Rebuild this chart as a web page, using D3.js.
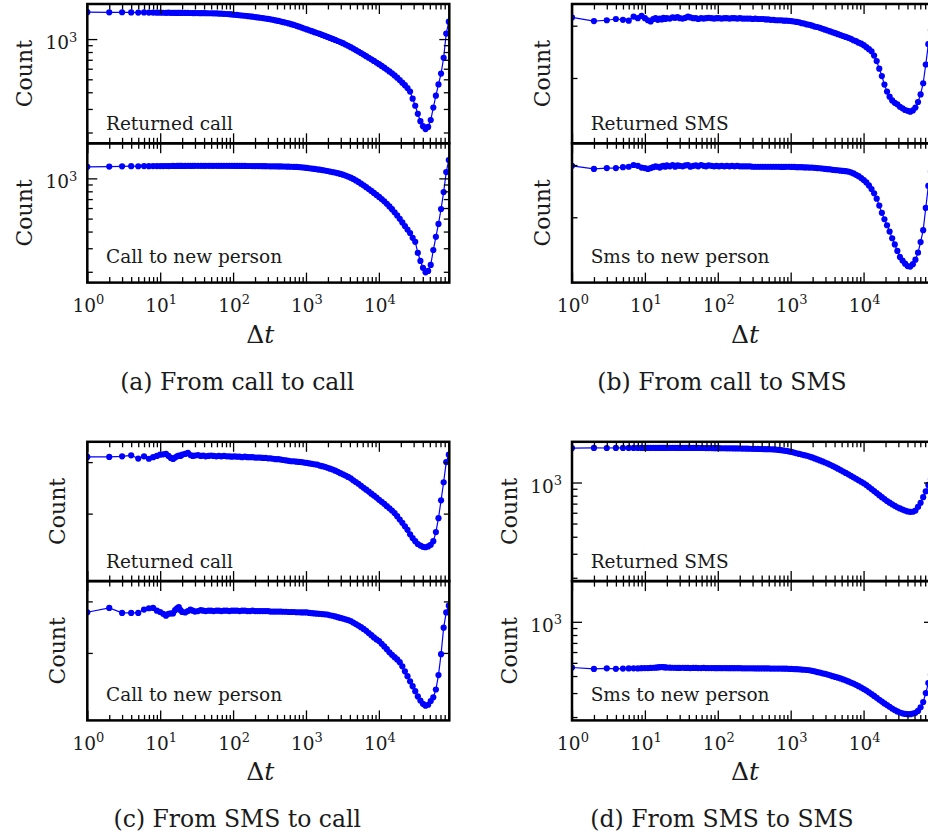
<!DOCTYPE html>
<html>
<head>
<meta charset="utf-8">
<script src="https://cdn.jsdelivr.net/npm/d3@7"></script>
<style>
  body { margin: 0; background: #fff; }
  svg { display: block; font-family: "DejaVu Serif", serif; }
</style>
</head>
<body>
<div id="chart"></div>
<script>
// time between events (s), shared bins for all series
var deltaT = [1,2,3,4,5,6,7,8,9,10,
  11,12,13,14,15,16,17,18,19,20,
  22,24,26,28,30, 33,36,39,42,46, 50,54,59,64,69, 75,82,89,96,104,
  113,123,133,145,157, 170,185,201,218,236, 256,278,302,327,355, 385,418,454,492,534,
  579,628,682,740,803, 871,945,1025,1112,1207, 1309,1421,1541,1672,1814, 1969,2136,2318,2515,2729,
  2961,3212,3485,3781,4103, 4451,4830,5240,5686,6169, 6693,7262,7879,8549,9276, 10064,10920,11848,12855,13948,
  15133,16420,17815,19330,20973, 22755,24690,26788,29065,31536, 34216,37125,40280,43704,47419, 51450,55823,60568,65716,71302,
  77363,83939,91074];

// (a) from call to call
var callCallReturned = [1590,1585,1588,1583,1580,1582,1578,1580,1576,1575,
  1574,1573,1575,1572,1571,1573,1570,1571,1569,1570,
  1568,1569,1567,1566,1566, 1565,1563,1564,1562,1561, 1560,1558,1556,1553,1550, 1546,1541,1536,1529,1521,
  1515,1508,1501,1494,1486, 1479,1471,1462,1453,1444, 1435,1425,1415,1405,1393, 1380,1367,1353,1339,1325,
  1309,1292,1275,1257,1238, 1220,1200,1181,1163,1145, 1127,1110,1092,1074,1056, 1038,1020,1002,985,967,
  949,931,911,891,870, 849,828,807,786,766, 745,725,705,686,667, 649,630,611,592,573,
  554,535,514,493,472, 452,430,405,358,317, 276,243,223,212,220, 248,307,377,458,552,
  725,1100,1350];
var callCallNew = [1221,1226,1230,1233,1232,1235,1234,1236,1235,1237,
  1236,1238,1237,1238,1239,1238,1239,1240,1239,1240,
  1240,1241,1240,1241,1241, 1241,1242,1241,1242,1242, 1242,1242,1242,1242,1242, 1242,1241,1241,1241,1240,
  1240,1240,1239,1239,1238, 1238,1237,1237,1236,1235, 1234,1233,1232,1231,1230, 1230,1229,1228,1227,1226,
  1224,1222,1220,1218,1215, 1210,1205,1198,1191,1184, 1177,1169,1162,1154,1145, 1135,1125,1115,1105,1093,
  1080,1065,1049,1031,1012, 990,966,940,912,887, 860,832,805,778,752, 727,700,673,645,617,
  588,558,528,498,468, 440,414,390,359,335, 277,241,214,198,203, 225,291,365,456,590,
  790,1114,1370];

// (b) from call to SMS
var callSmsReturned = [320,311,313,316,314,312,322,318,324,318,
  313,310,316,318,314,317,315,319,316,318,
  317,320,319,321,318, 317,319,322,320,318, 318,316,318,317,318, 319,318,317,318,318,
  317,318,318,317,318, 318,317,318,317,317, 317,317,316,317,316, 316,316,315,315,314,
  314,313,313,313,312, 312,311.5,311,310,309, 308,306,305,303,302, 300,298,297,295,293,
  291,289,287,285,283, 281,279,277,275,273, 271,268,266,263,261, 258,254,250,246,238,
  228,215,203,190,180, 173,168,165,163,160, 158,156,155,154,155.5, 159,166,176,192,222,
  260,290,310];
var callSmsNew = [298,291,293,293,295,296,300,298,294,293,
  291,293,295,297,296,294,297,298,296,299,
  297,300,296,299,298, 297,299,300,296,298, 299,297,300,298,297, 299,298,297,298,297,
  298,297,298,297,298, 297,298,297,297,297, 297,297,296,296,296, 296,296,296,296,296,
  296,296,296,295.5,295.5, 296,296,295.5,295.5,295, 295,295,294.5,294.5,294, 294,293.5,293,292.5,292,
  291,290.5,290,289,288.5, 288,287,286.5,286,285, 283.5,281,278,275,271, 267,262,256,249,241,
  231,219,207,197,188, 179,170,162,154,147, 143,139.5,137,136.5,139, 144,152,165,181,215,
  255,285,300];

// (c) from SMS to call
var smsCallReturned = [312.6,312.6,314,316.5,308.5,314,308,312,315,318,
  319,320,315,310,307.7,311,314,316,315,318,
  320,322.6,317,315,316, 317,315,316,314,315, 316,315,314,315,314, 315,314,314,313,314,
  313,313,312,313,312, 312,312,311,311,311, 310,310,309,309,308, 307,307,306,305,304,
  303,302,302,301,300.5, 300,299,298,297,296, 295,294,292,290.5,289, 287,285,283,280.5,278,
  275,272.5,270,267,264, 260,256.5,253,249,245, 241.5,238,234,230.5,227, 223,219.5,216,212,208.5,
  205,201,196,191,186, 181,176,170,165,161, 157.5,155.5,154,153.5,154.5, 156.5,161,173,193,222,
  256,300,318];
var smsCallNew = [275.4,285,274,274,274,281.4,284.3,285,279,276,
  272,268,272,273,273,280,284,286.6,280,276,
  275,278,281,279,277, 278,280,279,278,279, 279,278,279,279,278, 279,279,278,279,279,
  279,278,279,279,278, 278,279,278,278,278, 278,278,278,277,277, 277,277,277,276.5,276.5,
  276,276,276,275.5,275.5, 275,275,275,274,273.5, 273,272.5,272,271.5,271, 270.5,269,268,266.5,265,
  263.5,262,260.5,259,257, 254,251,248,245,241.5, 238,234,230,226,222.5, 219.5,215,210.5,206,201,
  197,193.5,190,186,180, 173,166.5,160,154,148, 142,137.5,134,132,133, 137,141,150,168,198,
  244,275,290];

// (d) from SMS to SMS
var smsSmsReturned = [1790,1795,1792,1794,1793,1795,1794,1795,1794,1795,
  1794,1795,1796,1795,1794,1795,1796,1795,1795,1794,
  1795,1796,1795,1794,1795, 1795,1794,1795,1794,1794, 1793,1793,1792,1792,1791, 1790,1789,1788,1787,1786,
  1785,1784,1783,1782,1781, 1780,1779,1777,1776,1774, 1772,1770,1768,1766,1764, 1762,1760,1758,1756,1754,
  1750,1744,1736,1727,1717, 1705,1692,1676,1658,1640, 1622,1605,1588,1572,1550, 1527,1502,1477,1452,1428,
  1403,1377,1350,1321,1292, 1263,1233,1205,1176,1148, 1120,1093,1066,1039,1013, 988,957,926,895,865,
  836,808,781,756,732, 711,692,674,658,645, 633,622,614,609,610, 622,662,710,780,860,
  960,1060,1160];
var smsSmsNew = [462,451,456,452,454,455,456,455,457,458,
  458,459,460,461,463,465,466,465,463,462,
  461,460,460,459,459, 460,459,459,458,459, 459,458,458,459,458, 458,458,458,457,458,
  457,458,457,457,457, 457,457,457,456,456, 456,456,456,455,455, 455,455,455,455,454,
  454,454,454,454,453, 453,452,451,450,449, 448,446,445,443,441, 437,433,428,424,419,
  415,410,405,399,394, 389,384,378,372,365, 358,352,345,337,329, 321,313,304,295,286,
  277,268,260,252,245, 238,231,225,220,216, 213,211,210,210,212, 215,222,236,258,300,
  355,410,460];

var captions = ["(a) From call to call", "(b) From call to SMS", "(c) From SMS to call", "(d) From SMS to SMS"];
var upperLabels = ["Returned call", "Returned SMS", "Returned call", "Returned SMS"];
var lowerLabels = ["Call to new person", "Sms to new person", "Call to new person", "Sms to new person"];
var yRanges = [[166, 1830], [120.5, 355], [117.6, 352], [189, 1990]];
var xRange = [1, 92500];

var subplots = [
  {upper: callCallReturned, lower: callCallNew},
  {upper: callSmsReturned, lower: callSmsNew},
  {upper: smsCallReturned, lower: smsCallNew},
  {upper: smsSmsReturned, lower: smsSmsNew}
];

var W = 928, H = 839;
var plotW = 362, panelH = 139.3;
var colX = [87.3, 572], rowY = [4, 441.8];
var blue = "#0000ff";

var svg = d3.select("#chart").append("svg")
  .attr("width", W).attr("height", H);

// log tick values inside a domain: majors are powers of ten
function logTicks(dom) {
  var major = [], minor = [];
  for (var e = -1; e <= 6; e++) {
    for (var m = 1; m < 10; m++) {
      var v = m * Math.pow(10, e);
      if (v >= dom[0] * 0.999 && v <= dom[1] * 1.001) {
        (m === 1 ? major : minor).push(v);
      }
    }
  }
  return {major: major, minor: minor};
}

function powLabel(sel, exp) {
  sel.append("tspan").attr("font-size", 18.5).text("10");
  sel.append("tspan").attr("font-size", 13).attr("dy", -7.5).text(exp);
}

function styleTicks(a) {
  a.select(".domain").remove();
  a.selectAll("line").attr("stroke", "#000").attr("stroke-width", 1.3);
}

var clipId = 0;

function drawPanel(left, top, ySeries, yDom, label, isLower) {
  var x = d3.scaleLog().domain(xRange).range([0, plotW]);
  var y = d3.scaleLog().domain(yDom).range([panelH, 0]);
  var g = svg.append("g").attr("transform", "translate(" + left + "," + top + ")");

  var pts = deltaT.map(function(d, i){ return [d, ySeries[i]]; });

  var id = "clip" + (clipId++);
  g.append("clipPath").attr("id", id)
    .append("rect").attr("width", plotW).attr("height", panelH);
  var data = g.append("g").attr("clip-path", "url(#" + id + ")");

  data.append("path")
    .datum(pts)
    .attr("fill", "none")
    .attr("stroke", blue)
    .attr("stroke-width", 1.2)
    .attr("d", d3.line().x(function(d){ return x(d[0]); }).y(function(d){ return y(d[1]); }));

  data.selectAll("circle")
    .data(pts)
    .enter().append("circle")
      .attr("cx", function(d){ return x(d[0]); })
      .attr("cy", function(d){ return y(d[1]); })
      .attr("r", 3.1)
      .attr("fill", blue);

  // inset label
  g.append("text")
    .attr("x", 18.7)
    .attr("y", panelH - (isLower ? 19.3 : 13.3))
    .attr("font-size", 18.5)
    .attr("fill", "#1a1a1a")
    .text(label);

  // x ticks, inward on bottom and top
  var xt = logTicks(xRange);
  [[xt.major, 10], [xt.minor, 5.5]].forEach(function(t){
    styleTicks(g.append("g").attr("transform", "translate(0," + panelH + ")")
      .call(d3.axisBottom(x).tickValues(t[0]).tickSizeInner(-t[1]).tickSizeOuter(0).tickFormat("")));
    styleTicks(g.append("g")
      .call(d3.axisTop(x).tickValues(t[0]).tickSizeInner(-t[1]).tickSizeOuter(0).tickFormat("")));
  });

  // y ticks, inward on left and right
  var yt = logTicks(yDom);
  [[yt.major, 10], [yt.minor, 5.5]].forEach(function(t){
    styleTicks(g.append("g")
      .call(d3.axisLeft(y).tickValues(t[0]).tickSizeInner(-t[1]).tickSizeOuter(0).tickFormat("")));
    styleTicks(g.append("g").attr("transform", "translate(" + plotW + ",0)")
      .call(d3.axisRight(y).tickValues(t[0]).tickSizeInner(-t[1]).tickSizeOuter(0).tickFormat("")));
  });

  if (isLower) {
    xt.major.forEach(function(v){
      var t = g.append("text")
        .attr("x", x(v) + 1).attr("y", panelH + 29.4)
        .attr("text-anchor", "middle").attr("fill", "#1a1a1a");
      powLabel(t, Math.round(Math.log10(v)));
    });
  }
  yt.major.forEach(function(v){
    var t = g.append("text")
      .attr("x", -10).attr("y", y(v) + 10)
      .attr("text-anchor", "end").attr("fill", "#1a1a1a");
    powLabel(t, Math.round(Math.log10(v)));
  });

  // y label
  g.append("text")
    .attr("transform", "translate(" + (yt.major.length ? -55 : -22) + "," + (panelH / 2) + ") rotate(-90)")
    .attr("text-anchor", "middle")
    .attr("font-size", 22)
    .attr("fill", "#1a1a1a")
    .text("Count");

  // frame
  g.append("rect")
    .attr("width", plotW).attr("height", panelH)
    .attr("fill", "none").attr("stroke", "#000").attr("stroke-width", 2.5);
}

subplots.forEach(function(sp, i){
  var left = colX[i % 2], top = rowY[Math.floor(i / 2)];
  drawPanel(left, top, sp.upper, yRanges[i], upperLabels[i], false);
  drawPanel(left, top + panelH, sp.lower, yRanges[i], lowerLabels[i], true);

  // x axis label
  var xl = svg.append("text")
    .attr("x", left + plotW / 2 - 8)
    .attr("y", top + 2 * panelH + 60)
    .attr("text-anchor", "middle")
    .attr("font-size", 25)
    .attr("fill", "#1a1a1a");
  xl.append("tspan").text("Δ");
  xl.append("tspan").attr("font-style", "italic").text("t");

  svg.append("text")
    .attr("x", left + 150)
    .attr("y", top + 2 * panelH + 107)
    .attr("text-anchor", "middle")
    .attr("font-size", 23.5)
    .attr("fill", "#1a1a1a")
    .text(captions[i]);
});
</script>
</body>
</html>
